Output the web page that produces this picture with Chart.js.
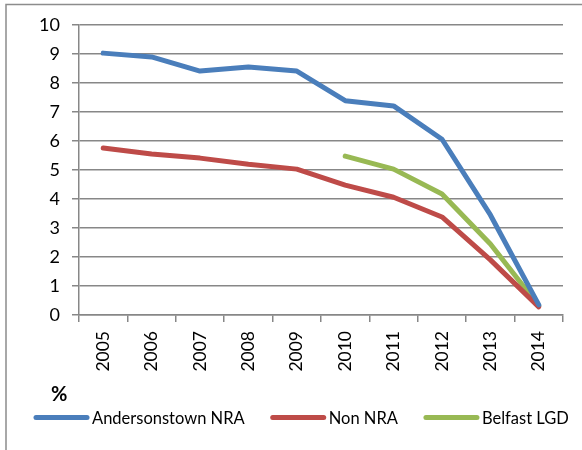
<!DOCTYPE html>
<html>
<head>
<meta charset="utf-8">
<script src="https://cdn.jsdelivr.net/npm/chart.js@4"></script>
<style>
  html, body { margin: 0; padding: 0; background: #fff; }
  #wrap { width: 582px; height: 450px; position: relative; }
</style>
</head>
<body>
<div id="wrap"><canvas id="chart" width="582" height="450"></canvas></div>
<script>
// Données
const years = ['2005', '2006', '2007', '2008', '2009', '2010', '2011', '2012', '2013', '2014'];
const andersonstown = [9.03, 8.9, 8.41, 8.55, 8.41, 7.39, 7.21, 6.06, 3.45, 0.35];
const nonNra = [5.76, 5.55, 5.41, 5.2, 5.03, 4.48, 4.06, 3.38, 1.9, 0.28];
const belfast = [null, null, null, null, null, 5.48, 5.03, 4.17, 2.45, 0.32];
const yTicks = [0, 1, 2, 3, 4, 5, 6, 7, 8, 9, 10];

const FONT = 'Lato';
const GRID = '#878787';

// Cadre, symbole % et légende dessinés à la main
const extras = {
    id: 'extras',
    afterDraw(chart) {
        const ctx = chart.ctx;
        ctx.save();
        // cadre extérieur
        ctx.strokeStyle = '#8c8c8c';
        ctx.lineWidth = 1.5;
        ctx.beginPath();
        ctx.moveTo(6, 452);
        ctx.lineTo(6, 4.5);
        ctx.lineTo(590, 4.5);
        ctx.stroke();

        // %
        ctx.fillStyle = '#000';
        ctx.font = 'bold 20px ' + FONT;
        ctx.textBaseline = 'middle';
        ctx.textAlign = 'left';
        ctx.fillText('%', 51, 395);

        // légende
        ctx.font = '16.5px ' + FONT;
        let x = 34;
        const y = 417.5;
        chart.data.datasets.forEach(ds => {
            ctx.strokeStyle = ds.borderColor;
            ctx.lineWidth = 5;
            ctx.lineCap = 'round';
            ctx.beginPath();
            ctx.moveTo(x + 2, y);
            ctx.lineTo(x + 53, y);
            ctx.stroke();
            x += 58;
            ctx.fillStyle = '#000';
            ctx.fillText(ds.label, x, y + 1);
            x += ctx.measureText(ds.label).width + 26;
        });
        ctx.restore();
    }
};

new Chart(document.getElementById('chart'), {
    type: 'line',
    data: {
        labels: years,
        datasets: [
            {
                label: 'Andersonstown NRA',
                data: andersonstown,
                borderColor: '#4A7EBB',
                borderWidth: 5
            },
            {
                label: 'Non NRA',
                data: nonNra,
                borderColor: '#BE4B48',
                borderWidth: 5
            },
            {
                label: 'Belfast LGD',
                data: belfast,
                borderColor: '#98B954',
                borderWidth: 5
            }
        ]
    },
    options: {
        responsive: false,
        animation: false,
        layout: { padding: { left: 0, right: 19, top: 25, bottom: 0 } },
        elements: {
            point: { radius: 0 },
            line: { tension: 0, borderCapStyle: 'round', borderJoinStyle: 'round' }
        },
        plugins: {
            legend: { display: false },
            tooltip: { enabled: false }
        },
        scales: {
            x: {
                offset: true,
                grid: {
                    offset: true,
                    drawOnChartArea: false,
                    drawTicks: true,
                    tickLength: 7,
                    color: GRID,
                    lineWidth: 1.5
                },
                border: { color: GRID, width: 1.5 },
                ticks: {
                    color: '#000',
                    font: { family: FONT, size: 17.5 },
                    minRotation: 90,
                    maxRotation: 90,
                    padding: 9,
                    autoSkip: false
                },
                afterFit(scale) { scale.height = 135; }
            },
            y: {
                min: 0,
                max: 10,
                afterBuildTicks(scale) { scale.ticks = yTicks.map(v => ({ value: v })); },
                grid: {
                    color: GRID,
                    lineWidth: 1.5,
                    tickLength: 7
                },
                border: { color: GRID, width: 1.5 },
                ticks: {
                    color: '#000',
                    font: { family: FONT, size: 18 },
                    padding: 12
                },
                afterFit(scale) { scale.width = 79; }
            }
        }
    },
    plugins: [extras]
});
</script>
</body>
</html>
